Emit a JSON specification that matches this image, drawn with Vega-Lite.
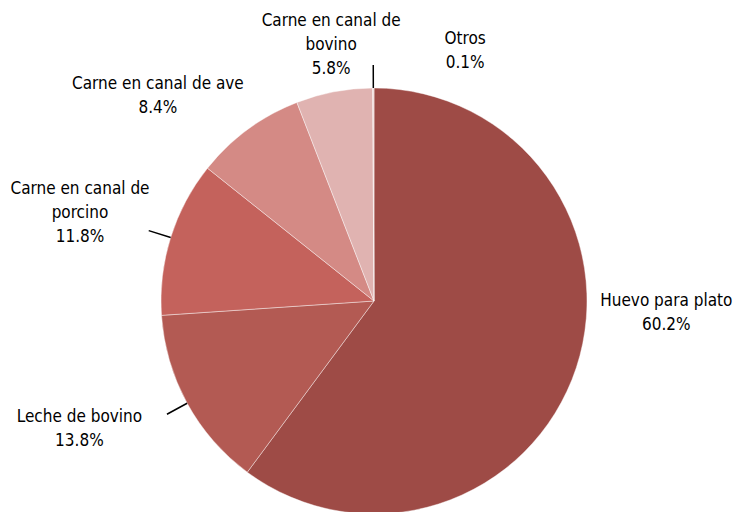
{
  "$schema": "https://vega.github.io/schema/vega-lite/v6.json",
  "width": 732,
  "height": 422,
  "autosize": {"type": "none"},
  "padding": {"left": 8, "top": 90, "right": 0, "bottom": 0},
  "background": "white",
  "view": {"stroke": null},
  "config": {"text": {"font": "Liberation Sans Narrow, DejaVu Sans Condensed, sans-serif", "fontSize": 17, "lineHeight": 24, "lineBreak": "\n", "align": "center", "baseline": "middle", "color": "#000000"}},
  "data": {
    "values": [
      {"categoria": "Huevo para plato", "etiqueta": "Huevo para plato", "valor": 60.2, "orden": 1},
      {"categoria": "Leche de bovino", "etiqueta": "Leche de bovino", "valor": 13.8, "orden": 2},
      {"categoria": "Carne en canal de porcino", "etiqueta": "Carne en canal de\nporcino", "valor": 11.8, "orden": 3},
      {"categoria": "Carne en canal de ave", "etiqueta": "Carne en canal de ave", "valor": 8.4, "orden": 4},
      {"categoria": "Carne en canal de bovino", "etiqueta": "Carne en canal de\nbovino", "valor": 5.8, "orden": 5},
      {"categoria": "Otros", "etiqueta": "Otros", "valor": 0.1, "orden": 6}
    ]
  },
  "transform": [
    {"window": [{"op": "sum", "field": "valor", "as": "acum"}], "sort": [{"field": "orden"}], "frame": [null, 0]},
    {"calculate": "datum.acum - datum.valor / 2", "as": "medio"},
    {"calculate": "datum.etiqueta + '\\n' + format(datum.valor, '.1f') + '%'", "as": "texto"}
  ],
  "layer": [
    {
      "mark": {"type": "arc", "radius": 213, "stroke": "white", "strokeWidth": 0.6, "strokeOpacity": 0.7},
      "encoding": {
        "theta": {"field": "valor", "type": "quantitative", "stack": true, "scale": {"domain": [0, 100.1]}},
        "order": {"field": "orden", "type": "quantitative", "sort": "ascending"},
        "color": {
          "field": "categoria", "type": "nominal", "legend": null,
          "scale": {
            "domain": ["Huevo para plato", "Leche de bovino", "Carne en canal de porcino", "Carne en canal de ave", "Carne en canal de bovino", "Otros"],
            "range": ["#9E4B46", "#B35A53", "#C4625C", "#D48A85", "#E0B3B1", "#EFD6D4"]
          }
        }
      }
    },
    {
      "transform": [{"filter": "datum.orden == 2 || datum.orden == 3 || datum.orden == 6"}],
      "mark": {"type": "arc", "radius": 236, "radius2": 213, "filled": false, "stroke": "#000000", "strokeWidth": 1.5},
      "encoding": {
        "theta": {"field": "medio", "type": "quantitative", "stack": null, "scale": {"domain": [0, 100.1]}},
        "theta2": {"field": "medio"}
      }
    },
    {
      "transform": [{"filter": "datum.orden == 1"}],
      "mark": {"type": "text", "radius": 292, "dx": 15, "dy": -91},
      "encoding": {
        "theta": {"field": "medio", "type": "quantitative", "stack": null, "scale": {"domain": [0, 100.1]}},
        "text": {"field": "texto"}
      }
    },
    {
      "transform": [{"filter": "datum.orden == 2"}],
      "mark": {"type": "text", "radius": 321, "dx": -13, "dy": -38},
      "encoding": {
        "theta": {"field": "medio", "type": "quantitative", "stack": null, "scale": {"domain": [0, 100.1]}},
        "text": {"field": "texto"}
      }
    },
    {
      "transform": [{"filter": "datum.orden == 3"}],
      "mark": {"type": "text", "radius": 307, "dx": -1, "dy": -20},
      "encoding": {
        "theta": {"field": "medio", "type": "quantitative", "stack": null, "scale": {"domain": [0, 100.1]}},
        "text": {"field": "texto"}
      }
    },
    {
      "transform": [{"filter": "datum.orden == 4"}],
      "mark": {"type": "text", "radius": 299, "dx": -39, "dy": 24},
      "encoding": {
        "theta": {"field": "medio", "type": "quantitative", "stack": null, "scale": {"domain": [0, 100.1]}},
        "text": {"field": "texto"}
      }
    },
    {
      "transform": [{"filter": "datum.orden == 5"}],
      "mark": {"type": "text", "radius": 261, "dx": 6, "dy": -24},
      "encoding": {
        "theta": {"field": "medio", "type": "quantitative", "stack": null, "scale": {"domain": [0, 100.1]}},
        "text": {"field": "texto"}
      }
    },
    {
      "transform": [{"filter": "datum.orden == 6"}],
      "mark": {"type": "text", "radius": 268, "dx": 92, "dy": 6},
      "encoding": {
        "theta": {"field": "medio", "type": "quantitative", "stack": null, "scale": {"domain": [0, 100.1]}},
        "text": {"field": "texto"}
      }
    }
  ]
}
